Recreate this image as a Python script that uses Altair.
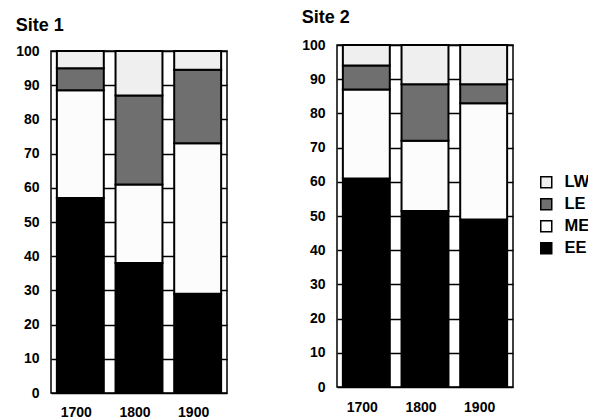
import altair as alt
import pandas as pd

years = ["1700", "1800", "1900"]
layers = ["LW", "LE", "ME", "EE"]
layer_colors = ["#efefef", "#6f6f6f", "#fcfcfc", "#000000"]

site1_EE = [57, 38, 29]
site1_ME = [31.5, 23, 44]
site1_LE = [6.5, 26, 21.5]
site1_LW = [5, 13, 5.5]

site2_EE = [61, 51.5, 49]
site2_ME = [26, 20.5, 34]
site2_LE = [7, 16.5, 5.5]
site2_LW = [6, 11.5, 11.5]

y_ticks = [0, 10, 20, 30, 40, 50, 60, 70, 80, 90, 100]

FONT = "Liberation Sans"


def build(ee, me, le, lw):
    rows = []
    for i, yr in enumerate(years):
        for k, (name, vals) in enumerate([("EE", ee), ("ME", me), ("LE", le), ("LW", lw)]):
            rows.append({"year": yr, "layer": name, "value": vals[i], "order": k})
    return pd.DataFrame(rows)


def site_chart(df, title, legend, label_pad, x_title, x_title_size, title_offset):
    color = alt.Color(
        "layer:N",
        scale=alt.Scale(domain=layers, range=layer_colors),
        legend=legend,
    )
    return alt.Chart(df).mark_bar(stroke="black", strokeWidth=2).encode(
        x=alt.X(
            "year:O",
            scale=alt.Scale(paddingInner=0.2, paddingOuter=0.1),
            axis=alt.Axis(
                title=x_title, titleFontSize=x_title_size, titlePadding=0,
                labelAngle=0, ticks=False, domain=False,
                labelPadding=label_pad, labelOffset=-4, labelFontSize=14,
                labelFontWeight="bold", labelColor="black", labelFont=FONT, grid=False,
            ),
        ),
        y=alt.Y(
            "value:Q", stack="zero",
            scale=alt.Scale(domain=[0, 100]),
            axis=alt.Axis(
                title=None, values=y_ticks, ticks=False, domain=False, grid=True,
                gridColor="black", gridWidth=1.5, gridOpacity=1, labelPadding=12,
                labelFontSize=14, labelFontWeight="bold", labelColor="black", labelFont=FONT,
            ),
        ),
        color=color,
        order=alt.Order("order:Q", sort="ascending"),
    ).properties(
        width=176, height=342,
        title=alt.TitleParams(
            title, anchor="start", frame="bounds", fontSize=18, fontWeight="bold",
            font=FONT, color="black", offset=title_offset,
        ),
    )


legend2 = alt.Legend(
    title=None, orient="none", legendX=201, legendY=129, padding=0,
    symbolType="square", symbolSize=121, symbolStrokeColor="black",
    symbolStrokeWidth=1.5, labelFontSize=16.5, labelFontWeight="bold",
    labelFont=FONT, labelColor="black", rowPadding=4, labelOffset=10,
)

site1 = site_chart(build(site1_EE, site1_ME, site1_LE, site1_LW), "Site 1", None, 12.2, None, 8, 9)
site2 = site_chart(build(site2_EE, site2_ME, site2_LE, site2_LW), "Site 2", legend2, 13.6, " ", 10.6, 11)

chart = alt.hconcat(
    site1,
    site2,
    spacing=72,
    center=True,
).resolve_scale(color="independent").properties(
    padding={"left": 6, "top": 0, "right": -3, "bottom": 0},
    background="white",
).configure_view(stroke="black", strokeWidth=1.5)

chart.save("out.html", embed_options={"renderer": "svg", "actions": False})
